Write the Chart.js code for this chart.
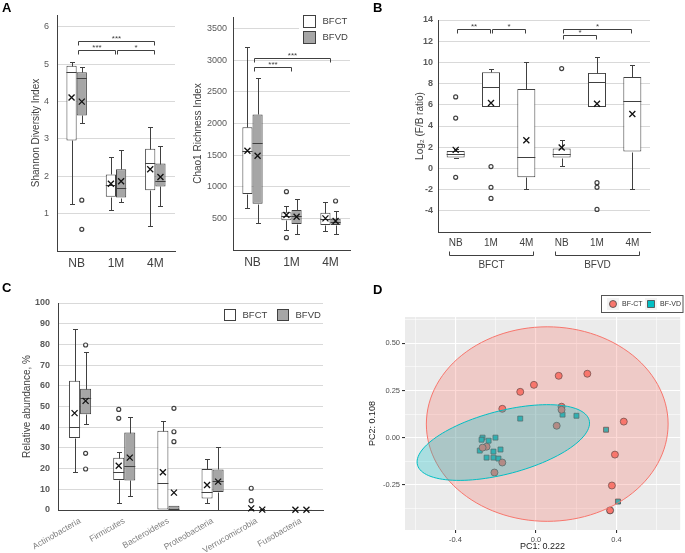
<!DOCTYPE html>
<html>
<head>
<meta charset="utf-8">
<script src="https://cdn.jsdelivr.net/npm/chart.js@4.4.1/dist/chart.umd.min.js"></script>
<style>
  body { margin: 0; background: #fff; }
  #fig { position: relative; width: 685px; height: 553px; overflow: hidden; }
  #fig canvas { position: absolute; }
  .tag { position: absolute; font: bold 13px "Liberation Sans", Arial, sans-serif; color: #000; }
</style>
</head>
<body>
<div id="fig">
  <canvas id="shannon" width="180" height="285" style="left:0;top:0;width:180px;height:285px"></canvas>
  <canvas id="chao" width="175" height="285" style="left:180px;top:0;width:175px;height:285px"></canvas>
  <canvas id="ratio" width="260" height="285" style="left:395px;top:0;width:260px;height:285px"></canvas>
  <canvas id="phyla" width="330" height="268" style="left:0;top:285px;width:330px;height:268px"></canvas>
  <canvas id="pca" width="325" height="268" style="left:360px;top:285px;width:325px;height:268px"></canvas>
  <div class="tag" style="left:2px;top:0">A</div>
  <div class="tag" style="left:373px;top:0">B</div>
  <div class="tag" style="left:2px;top:280px">C</div>
  <div class="tag" style="left:373px;top:282px">D</div>
</div>
<script>
Chart.defaults.font.family = '"Liberation Sans", Arial, sans-serif';
Chart.defaults.color = '#595959';
Chart.defaults.animation = false;
Chart.defaults.plugins.legend.display = false;
Chart.defaults.plugins.tooltip.enabled = false;

// box stats: [low whisker, q1, median, q3, high whisker, mean, outliers]
const ages = ['NB', '1M', '4M'];
const shannonBFCT = [
  [1.25, 2.96, 4.79, 4.96, 5.07, 4.11, []],
  [1.09, 1.45, 1.78, 2.05, 2.52, 1.80, []],
  [0.68, 1.63, 2.36, 2.74, 3.32, 2.19, []]
];
const shannonBFVD = [
  [3.43, 3.63, 4.62, 4.79, 4.93, 4.00, [1.36, 0.58]],
  [1.31, 1.43, 1.69, 2.19, 2.70, 1.87, []],
  [1.20, 1.73, 1.87, 2.34, 2.81, 1.98, []]
];
const shannonTicks = [1, 2, 3, 4, 5, 6];
const shannonSig = [[0, 2, 5.62, '***'], [0, 1, 5.38, '***'], [1, 2, 5.38, '*']];

const chaoBFCT = [
  [668, 884, 1560, 1937, 3211, 1568, []],
  [316, 468, 542, 595, 700, 553, [921, 195]],
  [300, 395, 484, 589, 753, 500, []]
];
const chaoBFVD = [
  [432, 732, 1695, 2142, 2721, 1489, []],
  [247, 411, 537, 632, 805, 526, []],
  [247, 395, 447, 495, 621, 458, [774]]
];
const chaoTicks = [500, 1000, 1500, 2000, 2500, 3000, 3500];
const chaoSig = [[0, 2, 3030, '***'], [0, 1, 2885, '***']];

const ratioLabels = ['NB', '1M', '4M', 'NB', '1M', '4M'];
const ratioStats = [
  [0.96, 1.02, 1.37, 1.65, 1.84, 1.75, [6.74, 4.75, -0.84]],
  [5.79, 5.79, 7.65, 9.07, 9.39, 6.17, [0.17, -1.79, -2.83]],
  [-1.98, -0.84, 1.09, 7.50, 10.0, 2.66, []],
  [0.23, 1.02, 1.40, 1.87, 2.70, 1.97, [9.42]],
  [5.79, 5.79, 8.19, 9.01, 10.5, 6.10, [-1.35, -1.79, -3.87]],
  [-1.95, 1.59, 6.36, 8.63, 9.80, 5.13, []]
];
const ratioTicks = [-4, -2, 0, 2, 4, 6, 8, 10, 12, 14];
const ratioSig = [[0, 1, 13.18, '**'], [1, 2, 13.18, '*'], [3, 5, 13.18, '*'], [3, 4, 12.55, '*']];
const ratioGroups = [['BFCT', 0, 2], ['BFVD', 3, 5]];

const phyla = ['Actinobacteria', 'Firmicutes', 'Bacteroidetes', 'Proteobacteria', 'Verrucomicrobia', 'Fusobacteria'];
const phylaBFCT = [
  [18.4, 34.8, 40.2, 62.5, 87.4, 46.8, []],
  [3.2, 14.5, 18.2, 25.3, 27.9, 21.4, [48.6, 44.3]],
  [0, 0, 12.9, 38.3, 43.2, 18.2, []],
  [3.2, 5.6, 8.9, 19.8, 24.5, 12.1, []],
  [0, 0, 0, 0.3, 0.5, 0.8, [10.5, 4.5]],
  [0, 0, 0, 0.1, 0.2, 0.1, []]
];
const phylaBFVD = [
  [41.4, 46.2, 54.0, 58.6, 76.3, 52.7, [79.7, 27.4, 19.8]],
  [6.8, 14.3, 21.3, 37.4, 45.1, 25.3, []],
  [0, 0, 0.3, 2.1, 2.1, 8.4, [49.1, 37.8, 33.0]],
  [0, 8.7, 14.2, 19.6, 30.3, 13.7, []],
  [0, 0, 0, 0.2, 0.3, 0.2, []],
  [0, 0, 0, 0.1, 0.2, 0.1, []]
];
const phylaTicks = [0, 10, 20, 30, 40, 50, 60, 70, 80, 90, 100];

const ctPC1 = [0.255, 0.113, -0.010, -0.078, -0.167, 0.127, 0.127, 0.103, 0.436, 0.392, 0.377, 0.368, -0.245, -0.265, -0.167, -0.206];
const ctPC2 = [0.339, 0.328, 0.280, 0.243, 0.153, 0.164, 0.148, 0.063, 0.085, -0.090, -0.254, -0.386, -0.048, -0.053, -0.132, -0.185];
const vdPC1 = [-0.078, 0.132, 0.201, 0.348, 0.407, -0.265, -0.270, -0.235, -0.201, -0.279, -0.211, -0.176, -0.245, -0.211, -0.186];
const vdPC2 = [0.101, 0.122, 0.116, 0.042, -0.339, 0.000, -0.011, -0.016, 0.000, -0.069, -0.074, -0.063, -0.106, -0.106, -0.111];
// ellipse: centre x, y, then two conjugate semi-axes (ux, uy), (vx, vy)
const ctEllipse = [0.056, 0.072, 0.60, 0, 0, 0.516];
const vdEllipse = [-0.162, -0.026, 0.428, 0.103, 0, 0.1725];
const pcaXTicks = [-0.4, 0, 0.4];
const pcaXGrid = [-0.6, -0.4, -0.2, 0, 0.2, 0.4, 0.6];
const pcaYTicks = [-0.25, 0, 0.25, 0.5];
const pcaYGrid = [-0.375, -0.25, -0.125, 0, 0.125, 0.25, 0.375, 0.5, 0.625];

const INK = '#404040';
const GRID = '#d9d9d9';
const GREY_BOX = '#a6a6a6';

// whiskers, medians, means and outliers on top of the floating bars
const boxExtras = {
  id: 'boxExtras',
  afterDatasetsDraw(chart) {
    const ctx = chart.ctx;
    const y = chart.scales.y;
    const py = v => Math.round(y.getPixelForValue(v)) + 0.5;
    chart.data.datasets.forEach((ds, i) => {
      const meta = chart.getDatasetMeta(i);
      ds.stats.forEach((s, j) => {
        const [lo, q1, med, q3, hi, mean, out] = s;
        const bar = meta.data[j];
        const x = Math.round(bar.x) + 0.5;
        const half = bar.width / 2;
        ctx.save();
        ctx.strokeStyle = INK;
        ctx.lineWidth = 1;
        ctx.beginPath();
        if (hi > q3) {
          ctx.moveTo(x, py(q3)); ctx.lineTo(x, py(hi));
          ctx.moveTo(x - 2.5, py(hi)); ctx.lineTo(x + 2.5, py(hi));
        }
        if (lo < q1) {
          ctx.moveTo(x, py(q1)); ctx.lineTo(x, py(lo));
          ctx.moveTo(x - 2.5, py(lo)); ctx.lineTo(x + 2.5, py(lo));
        }
        ctx.moveTo(bar.x - half, py(med)); ctx.lineTo(bar.x + half, py(med));
        ctx.stroke();
        const my = y.getPixelForValue(mean);
        ctx.strokeStyle = '#111';
        ctx.lineWidth = 1.3;
        ctx.beginPath();
        ctx.moveTo(bar.x - 3, my - 3); ctx.lineTo(bar.x + 3, my + 3);
        ctx.moveTo(bar.x + 3, my - 3); ctx.lineTo(bar.x - 3, my + 3);
        ctx.stroke();
        ctx.strokeStyle = INK;
        ctx.lineWidth = 1.2;
        ctx.fillStyle = '#fff';
        out.forEach(v => {
          ctx.beginPath();
          ctx.arc(bar.x, y.getPixelForValue(v), 2, 0, Math.PI * 2);
          ctx.fill(); ctx.stroke();
        });
        ctx.restore();
      });
    });
  }
};

const sigBrackets = {
  id: 'sigBrackets',
  afterDraw(chart, args, opts) {
    if (!opts.items) return;
    const {ctx, scales: {x, y}} = chart;
    ctx.save();
    ctx.strokeStyle = INK;
    ctx.fillStyle = INK;
    ctx.lineWidth = 1;
    ctx.font = '8px "Liberation Sans", Arial, sans-serif';
    ctx.textAlign = 'center';
    ctx.textBaseline = 'bottom';
    opts.items.forEach(([a, b, v, label]) => {
      const x0 = Math.round(x.getPixelForValue(a)) + 1.5;
      const x1 = Math.round(x.getPixelForValue(b)) - 0.5;
      const yy = Math.round(y.getPixelForValue(v)) + 0.5;
      ctx.beginPath();
      ctx.moveTo(x0, yy + 4); ctx.lineTo(x0, yy); ctx.lineTo(x1, yy); ctx.lineTo(x1, yy + 4);
      ctx.stroke();
      ctx.fillText(label, (x0 + x1) / 2, yy + 1);
    });
    ctx.restore();
  }
};

const groupAxis = {
  id: 'groupAxis',
  afterDraw(chart, args, opts) {
    if (!opts.items) return;
    const {ctx, scales: {x}, chartArea} = chart;
    const yy = chartArea.bottom + 23.5;
    ctx.save();
    ctx.strokeStyle = INK;
    ctx.fillStyle = INK;
    ctx.lineWidth = 1;
    ctx.font = '10px "Liberation Sans", Arial, sans-serif';
    ctx.textAlign = 'center';
    ctx.textBaseline = 'middle';
    opts.items.forEach(([label, a, b]) => {
      const x0 = Math.round(x.getPixelForValue(a)) - 6.5;
      const x1 = Math.round(x.getPixelForValue(b)) + 7.5;
      ctx.beginPath();
      ctx.moveTo(x0, yy - 4); ctx.lineTo(x0, yy); ctx.lineTo(x1, yy); ctx.lineTo(x1, yy - 4);
      ctx.stroke();
      ctx.fillText(label, (x0 + x1) / 2, yy + 10);
    });
    ctx.restore();
  }
};

const boxLegend = {
  id: 'boxLegend',
  afterDraw(chart, args, opts) {
    if (!opts.at) return;
    const ctx = chart.ctx;
    const n = chart.data.datasets.length;
    const [x0, y0] = opts.at;
    ctx.save();
    ctx.fillStyle = '#fff';
    ctx.fillRect(x0 - 4, y0 - 2, chart.chartArea.right - x0 + 4,
      opts.step[1] * (n - 1) + opts.size + 4);
    ctx.font = '9.5px "Liberation Sans", Arial, sans-serif';
    ctx.textBaseline = 'middle';
    chart.data.datasets.forEach((ds, i) => {
      const x = x0 + i * opts.step[0] + 0.5;
      const y = y0 + i * opts.step[1] + 0.5;
      ctx.fillStyle = ds.backgroundColor;
      ctx.strokeStyle = INK;
      ctx.lineWidth = 1;
      ctx.fillRect(x, y, opts.size, opts.size);
      ctx.strokeRect(x, y, opts.size, opts.size);
      ctx.fillStyle = INK;
      ctx.fillText(ds.label, x + opts.size + 7, y + opts.size / 2);
    });
    ctx.restore();
  }
};

function boxDatasets(series) {
  return series.map(([label, stats, fill]) => ({
    label,
    stats,
    data: stats.map(s => [s[1], s[3]]),
    backgroundColor: fill,
    borderColor: INK,
    borderWidth: 1,
    borderSkipped: false,
    categoryPercentage: 0.52,
    barPercentage: 1
  }));
}

function boxScales(o) {
  return {
    x: {
      afterFit: s => { s.height = o.xh; },
      grid: { display: false, drawTicks: false },
      border: { color: INK, width: 1 },
      ticks: Object.assign({ padding: 5, color: INK, font: { size: o.xfont || 12 }, autoSkip: false }, o.xticks || {})
    },
    y: {
      min: o.min, max: o.max,
      afterBuildTicks: s => { s.ticks = o.ticks.map(v => ({ value: v })); },
      afterFit: s => { s.width = o.yw; },
      grid: { color: c => c.tick && c.tick.value === 0 && o.min === 0 ? 'rgba(0,0,0,0)' : GRID, drawTicks: false },
      border: { color: INK, width: 1 },
      ticks: { padding: o.ypad, color: '#595959', font: { size: 9, weight: o.ybold ? 'bold' : 'normal' }, callback: v => String(v) },
      title: { display: true, text: o.title, color: INK, font: { size: o.tfont || 10 }, padding: { top: o.tpad, bottom: 0 } }
    }
  };
}

new Chart(document.getElementById('shannon'), {
  type: 'bar',
  data: {
    labels: ages,
    datasets: boxDatasets([['BFCT', shannonBFCT, '#fff'], ['BFVD', shannonBFVD, GREY_BOX]])
  },
  options: {
    responsive: false,
    layout: { padding: { top: 15, right: 5, bottom: 4, left: 0 } },
    scales: boxScales({ min: 0, max: 6.32, ticks: shannonTicks, yw: 57, xh: 30, ypad: 8, tpad: 30, title: 'Shannon Diversity Index' }),
    plugins: { sigBrackets: { items: shannonSig } }
  },
  plugins: [boxExtras, sigBrackets]
});

new Chart(document.getElementById('chao'), {
  type: 'bar',
  data: {
    labels: ages,
    datasets: boxDatasets([['BFCT', chaoBFCT, '#fff'], ['BFVD', chaoBFVD, GREY_BOX]])
  },
  options: {
    responsive: false,
    layout: { padding: { top: 17, right: 5, bottom: 5, left: 0 } },
    scales: boxScales({ min: 0, max: 3680, ticks: chaoTicks, yw: 53, xh: 30, ypad: 6, tpad: 12, title: 'Chao1 Richness Index' }),
    plugins: {
      sigBrackets: { items: chaoSig },
      boxLegend: { at: [123, 15], step: [0, 16], size: 12 }
    }
  },
  plugins: [boxExtras, sigBrackets, boxLegend]
});

const ratioSets = boxDatasets([['F/B', ratioStats, '#fff']]);
ratioSets[0].categoryPercentage = 0.51;
new Chart(document.getElementById('ratio'), {
  type: 'bar',
  data: { labels: ratioLabels, datasets: ratioSets },
  options: {
    responsive: false,
    layout: { padding: { top: 20, right: 5, bottom: 23, left: 0 } },
    scales: boxScales({ min: -6, max: 14, ticks: ratioTicks, yw: 43, xh: 30, ypad: 5, tpad: 19, ybold: true, xfont: 10, title: 'Log\u2082 (F/B ratio)' }),
    plugins: {
      sigBrackets: { items: ratioSig },
      groupAxis: { items: ratioGroups }
    }
  },
  plugins: [boxExtras, sigBrackets, groupAxis]
});

const phylaSets = boxDatasets([['BFCT', phylaBFCT, '#fff'], ['BFVD', phylaBFVD, GREY_BOX]]);
phylaSets.forEach(d => { d.categoryPercentage = 0.5; });
new Chart(document.getElementById('phyla'), {
  type: 'bar',
  data: { labels: phyla, datasets: phylaSets },
  options: {
    responsive: false,
    layout: { padding: { top: 18, right: 7, bottom: 0, left: 0 } },
    scales: boxScales({
      min: 0, max: 100, ticks: phylaTicks, yw: 58, xh: 43, ypad: 8, tpad: 21, ybold: true, tfont: 10,
      title: 'Relative abundance, %',
      xticks: { minRotation: 30, maxRotation: 30, padding: 6, color: '#7f7f7f', font: { size: 8.5 } }
    }),
    plugins: { boxLegend: { at: [224, 24], step: [53, 0], size: 11 } }
  },
  plugins: [boxExtras, boxLegend]
});

// PCA panel
const panelBg = {
  id: 'panelBg',
  beforeDraw(chart) {
    const {ctx, chartArea: a} = chart;
    ctx.save();
    ctx.fillStyle = '#ebebeb';
    ctx.fillRect(a.left, a.top, a.width, a.height);
    ctx.restore();
  }
};

const ellipses = {
  id: 'ellipses',
  afterDatasetsDraw(chart, args, opts) {
    const {ctx, scales: {x, y}, chartArea: a} = chart;
    ctx.save();
    ctx.beginPath();
    ctx.rect(a.left, a.top, a.width, a.height);
    ctx.clip();
    opts.items.forEach(([e, fill, stroke]) => {
      const [cx, cy, ux, uy, vx, vy] = e;
      ctx.beginPath();
      for (let k = 0; k <= 120; k++) {
        const t = k / 120 * Math.PI * 2;
        const px = x.getPixelForValue(cx + ux * Math.cos(t) + vx * Math.sin(t));
        const py = y.getPixelForValue(cy + uy * Math.cos(t) + vy * Math.sin(t));
        if (k) ctx.lineTo(px, py); else ctx.moveTo(px, py);
      }
      ctx.closePath();
      ctx.fillStyle = fill;
      ctx.fill();
      ctx.strokeStyle = stroke;
      ctx.lineWidth = 1;
      ctx.stroke();
    });
    ctx.restore();
  }
};

const pcaLegend = {
  id: 'pcaLegend',
  afterDraw(chart) {
    const ctx = chart.ctx;
    const top = 10.5, h = 17, left = 241.5, right = 324;
    ctx.save();
    ctx.fillStyle = '#fff';
    ctx.fillRect(left, top, right - left, h);
    ctx.strokeStyle = '#555';
    ctx.lineWidth = 1;
    ctx.strokeRect(left, top, right - left - 1, h);
    ctx.font = '7px "Liberation Sans", Arial, sans-serif';
    ctx.textBaseline = 'middle';
    const cy = top + h / 2;
    [253, 291].forEach((kx, i) => {
      const ds = chart.data.datasets[i];
      ctx.fillStyle = '#f2f2f2';
      ctx.fillRect(kx - 6, cy - 6, 12, 12);
      ctx.fillStyle = ds.backgroundColor;
      ctx.strokeStyle = ds.borderColor;
      ctx.lineWidth = 0.8;
      ctx.beginPath();
      if (ds.pointStyle === 'rect') ctx.rect(kx - 3.5, cy - 3.5, 7, 7);
      else ctx.arc(kx, cy, 3.5, 0, Math.PI * 2);
      ctx.fill(); ctx.stroke();
      ctx.fillStyle = '#333';
      ctx.fillText(ds.label, kx + 9, cy);
    });
    ctx.restore();
  }
};

const toPoints = (xs, ys) => xs.map((v, i) => ({ x: v, y: ys[i] }));

new Chart(document.getElementById('pca'), {
  type: 'scatter',
  data: {
    datasets: [
      { label: 'BF-CT', data: toPoints(ctPC1, ctPC2), pointStyle: 'circle', pointRadius: 3.5,
        backgroundColor: '#f8766d', borderColor: '#444', borderWidth: 0.8 },
      { label: 'BF-VD', data: toPoints(vdPC1, vdPC2), pointStyle: 'rect', pointRadius: 3.5,
        backgroundColor: '#00bfc4', borderColor: '#444', borderWidth: 0.8 }
    ]
  },
  options: {
    responsive: false,
    layout: { padding: { top: 32, right: 1, bottom: 0, left: 0 } },
    scales: {
      x: {
        type: 'linear', min: -0.65, max: 0.716,
        afterBuildTicks: s => { s.ticks = pcaXGrid.map(v => ({ value: v })); },
        afterFit: s => { s.height = 23; },
        border: { display: false },
        grid: {
          color: '#fff',
          lineWidth: c => pcaXTicks.includes(c.tick.value) ? 1.1 : 0.55,
          tickColor: c => pcaXTicks.includes(c.tick.value) ? '#333' : 'rgba(0,0,0,0)',
          tickLength: 3
        },
        ticks: { padding: 2, autoSkip: false, maxRotation: 0, color: '#4d4d4d', font: { size: 7.5 },
          callback: v => pcaXTicks.includes(v) ? v.toFixed(1) : '' },
        title: { display: true, text: 'PC1: 0.222', color: '#222', font: { size: 9 }, padding: { top: 0, bottom: 1.5 } }
      },
      y: {
        type: 'linear', min: -0.49, max: 0.64,
        afterBuildTicks: s => { s.ticks = pcaYGrid.map(v => ({ value: v })); },
        afterFit: s => { s.width = 45; },
        border: { display: false },
        grid: {
          color: '#fff',
          lineWidth: c => pcaYTicks.includes(c.tick.value) ? 1.1 : 0.55,
          tickColor: c => pcaYTicks.includes(c.tick.value) ? '#333' : 'rgba(0,0,0,0)',
          tickLength: 3
        },
        ticks: { padding: 2, autoSkip: false, color: '#4d4d4d', font: { size: 7.5 },
          callback: v => pcaYTicks.includes(v) ? v.toFixed(2) : '' },
        title: { display: true, text: 'PC2: 0.108', color: '#222', font: { size: 9 }, padding: { top: 7.5, bottom: 0 } }
      }
    },
    plugins: {
      ellipses: { items: [[ctEllipse, 'rgba(248,118,109,0.28)', '#f8766d'], [vdEllipse, 'rgba(0,191,196,0.28)', '#00bfc4']] }
    }
  },
  plugins: [panelBg, ellipses, pcaLegend]
});
</script>
</body>
</html>
